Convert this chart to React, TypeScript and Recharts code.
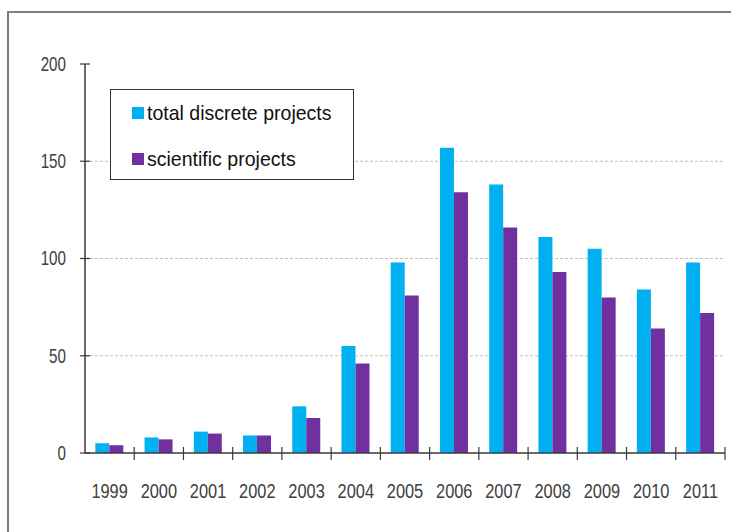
import { BarChart, Bar, XAxis, YAxis, CartesianGrid } from 'recharts';

const years = ['1999', '2000', '2001', '2002', '2003', '2004', '2005', '2006', '2007', '2008', '2009', '2010', '2011'];
const totalDiscrete = [5, 8, 11, 9, 24, 55, 98, 157, 138, 111, 105, 84, 98];
const scientific = [4, 7, 10, 9, 18, 46, 81, 134, 116, 93, 80, 64, 72];
const yTicks = [0, 50, 100, 150, 200];
const gridValues = [50, 100, 150];
const seriesNames = ['total discrete projects', 'scientific projects'];
const seriesColors = ['#00b0f0', '#7030a0'];

const data = years.map((year, i) => ({
  year,
  total: totalDiscrete[i],
  scientific: scientific[i]
}));

const W = 731;
const H = 532;
const LEFT = 85;
const RIGHT = 6;
const TOP = 64;
const BOTTOM = 79;
const band = (W - LEFT - RIGHT) / years.length;
const FONT = "'Liberation Sans', Arial, sans-serif";
const AXIS = '#3a3a3a';

function XTick(props: any) {
  const { x, y, payload, index } = props;
  return (
    <g>
      {index > 0 && <line x1={x - band / 2} x2={x - band / 2} y1={y - 6} y2={y + 7} stroke={AXIS} strokeWidth={1.2} />}
      {index === years.length - 1 && (
        <line x1={x + band / 2} x2={x + band / 2} y1={y - 6} y2={y + 7} stroke={AXIS} strokeWidth={1.2} />
      )}
      <g transform={`translate(${x},${y + 38}) scale(0.78,1)`}>
        <text x={0} y={0} textAnchor="middle" dominantBaseline="central" fill="#404040" fontSize={21} fontFamily={FONT}>
          {payload.value}
        </text>
      </g>
    </g>
  );
}

function YTick(props: any) {
  const { x, y, payload } = props;
  return (
    <g>
      <line x1={x - 5} x2={x + 5} y1={y} y2={y} stroke={AXIS} strokeWidth={1.2} />
      <g transform={`translate(${x - 19},${y}) scale(0.76,1)`}>
        <text x={0} y={0} textAnchor="end" dominantBaseline="central" fill="#404040" fontSize={20} fontFamily={FONT}>
          {payload.value}
        </text>
      </g>
    </g>
  );
}

function LegendBox() {
  return (
    <div
      style={{
        position: 'absolute',
        left: 110,
        top: 89,
        width: 244,
        height: 91,
        boxSizing: 'border-box',
        border: '1px solid #333',
        background: '#fff',
        fontFamily: FONT,
        fontSize: 21,
        color: '#111'
      }}
    >
      {seriesNames.map((name, i) => (
        <div key={name} style={{ position: 'absolute', left: 21, top: i === 0 ? 10 : 56, height: 26, display: 'flex', alignItems: 'center', whiteSpace: 'nowrap' }}>
          <div style={{ width: 12, height: 12, background: seriesColors[i], marginRight: 3 }} />
          <span style={{ display: 'inline-block', transform: 'scaleX(0.93)', transformOrigin: 'left center' }}>{name}</span>
        </div>
      ))}
    </div>
  );
}

export default function App() {
  return (
    <div style={{ position: 'fixed', left: 0, top: 0, width: W, height: H, background: '#fff', overflow: 'hidden' }}>
      <div
        style={{
          position: 'absolute',
          left: 7,
          top: 11,
          width: W,
          height: H,
          borderTop: '2px solid #7f7f7f',
          borderLeft: '2px solid #7f7f7f'
        }}
      />
      <div style={{ position: 'absolute', left: 0, top: 0 }}>
        <BarChart width={W} height={H} data={data} margin={{ top: TOP, right: RIGHT, bottom: 0, left: 0 }} barCategoryGap="21%" barGap={0}>
          <CartesianGrid horizontal vertical={false} horizontalValues={gridValues} stroke="#c0c0c0" strokeDasharray="3 2" />
          <XAxis
            dataKey="year"
            height={BOTTOM}
            tickLine={false}
            tickSize={0}
            tickMargin={0}
            interval={0}
            tick={<XTick />}
            axisLine={{ stroke: AXIS, strokeWidth: 1.5 }}
          />
          <YAxis
            width={LEFT}
            domain={[0, 200]}
            ticks={yTicks}
            tickLine={false}
            tickSize={0}
            tickMargin={0}
            tick={<YTick />}
            axisLine={{ stroke: AXIS, strokeWidth: 1.5 }}
          />
          <Bar dataKey="total" name={seriesNames[0]} fill={seriesColors[0]} isAnimationActive={false} />
          <Bar dataKey="scientific" name={seriesNames[1]} fill={seriesColors[1]} isAnimationActive={false} />
        </BarChart>
      </div>
      <LegendBox />
    </div>
  );
}
